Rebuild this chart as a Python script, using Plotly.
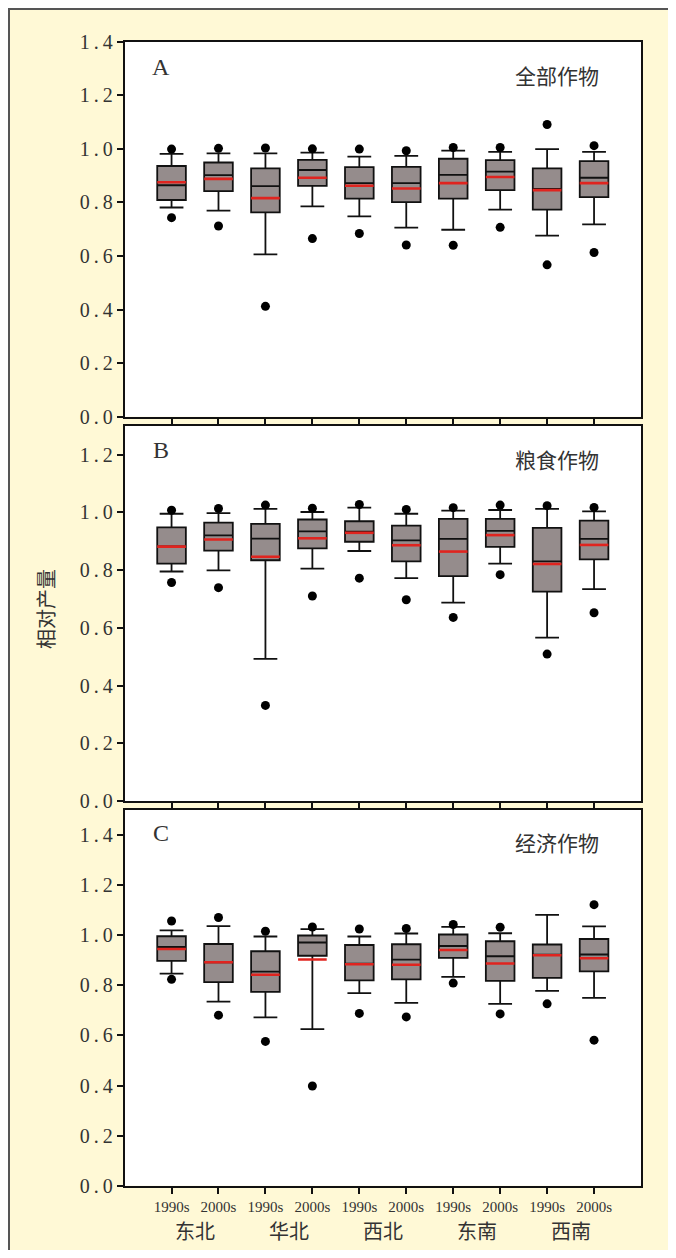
import plotly.graph_objects as go

# ---------------- data ----------------
positions = [1, 2, 3, 4, 5, 6, 7, 8, 9, 10]
decade_labels = ["1990s", "2000s"] * 5
regions = ["东北", "华北", "西北", "东南", "西南"]
panel_letters = ["A", "B", "C"]
panel_titles = ["全部作物", "粮食作物", "经济作物"]
y_title = "相对产量"

# Panel A: 全部作物
a_upper_out = [0.999, 1.002, 1.003, 1.000, 0.999, 0.993, 1.005, 1.005, 1.091, 1.012]
a_upper = [0.981, 0.983, 0.983, 0.986, 0.971, 0.974, 0.993, 0.989, 0.999, 0.989]
a_q3 = [0.936, 0.949, 0.927, 0.959, 0.932, 0.933, 0.963, 0.958, 0.927, 0.954]
a_median = [0.864, 0.902, 0.861, 0.921, 0.872, 0.872, 0.903, 0.915, 0.850, 0.892]
a_mean = [0.875, 0.888, 0.816, 0.892, 0.862, 0.852, 0.872, 0.895, 0.846, 0.872]
a_q1 = [0.809, 0.842, 0.763, 0.862, 0.814, 0.801, 0.814, 0.846, 0.773, 0.820]
a_lower = [0.781, 0.769, 0.606, 0.785, 0.748, 0.706, 0.698, 0.773, 0.676, 0.718]
a_lower_out = [0.743, 0.712, 0.412, 0.665, 0.684, 0.641, 0.640, 0.707, 0.567, 0.613]

# Panel B: 粮食作物
b_upper_out = [1.007, 1.013, 1.025, 1.014, 1.027, 1.010, 1.016, 1.025, 1.023, 1.017]
b_upper = [0.995, 0.997, 1.012, 1.001, 1.016, 0.995, 1.006, 1.008, 1.012, 1.003]
b_q3 = [0.948, 0.964, 0.960, 0.975, 0.969, 0.954, 0.977, 0.977, 0.946, 0.971]
b_median = [0.882, 0.920, 0.909, 0.934, 0.933, 0.903, 0.908, 0.936, 0.830, 0.908]
b_mean = [0.881, 0.906, 0.846, 0.910, 0.929, 0.886, 0.864, 0.921, 0.821, 0.887]
b_q1 = [0.822, 0.867, 0.834, 0.875, 0.898, 0.830, 0.779, 0.880, 0.725, 0.837]
b_lower = [0.795, 0.799, 0.492, 0.805, 0.866, 0.772, 0.687, 0.822, 0.566, 0.734]
b_lower_out = [0.757, 0.739, 0.331, 0.710, 0.772, 0.697, 0.636, 0.784, 0.509, 0.652]

# Panel C: 经济作物
c_upper_out = [1.057, 1.071, 1.016, 1.033, 1.025, 1.027, 1.043, 1.032, None, 1.122]
c_upper = [1.019, 1.036, 0.995, 1.024, 0.995, 1.007, 1.033, 1.008, 1.081, 1.035]
c_q3 = [0.996, 0.965, 0.936, 0.999, 0.961, 0.964, 1.003, 0.976, 0.963, 0.985]
c_median = [0.953, 0.892, 0.855, 0.971, 0.887, 0.903, 0.957, 0.916, 0.922, 0.923]
c_mean = [0.945, 0.892, 0.842, 0.903, 0.884, 0.882, 0.941, 0.887, 0.920, 0.908]
c_q1 = [0.898, 0.813, 0.774, 0.918, 0.820, 0.824, 0.910, 0.818, 0.830, 0.856]
c_lower = [0.847, 0.735, 0.672, 0.625, 0.769, 0.730, 0.834, 0.726, 0.778, 0.750]
c_lower_out = [0.824, 0.681, 0.576, 0.398, 0.688, 0.674, 0.809, 0.686, 0.726, 0.581]

y_ranges = [[0, 1.4], [0, 1.3], [0, 1.5]]
y_tickvals = [
    [0.0, 0.2, 0.4, 0.6, 0.8, 1.0, 1.2, 1.4],
    [0.0, 0.2, 0.4, 0.6, 0.8, 1.0, 1.2],
    [0.0, 0.2, 0.4, 0.6, 0.8, 1.0, 1.2, 1.4],
]

panels = [
    dict(q1=a_q1, med=a_median, q3=a_q3, lo=a_lower, hi=a_upper, mean=a_mean,
         out_hi=a_upper_out, out_lo=a_lower_out),
    dict(q1=b_q1, med=b_median, q3=b_q3, lo=b_lower, hi=b_upper, mean=b_mean,
         out_hi=b_upper_out, out_lo=b_lower_out),
    dict(q1=c_q1, med=c_median, q3=c_q3, lo=c_lower, hi=c_upper, mean=c_mean,
         out_hi=c_upper_out, out_lo=c_lower_out),
]

# ---------------- styling / layout ----------------
# The page body keeps its default 8px margin (white), which plays the role of
# the white strip outside the framed figure; the figure fills the rest.
PAGE_W, PAGE_H = 676, 1258
OFF = 8
W, H = PAGE_W - OFF, PAGE_H - 2 * OFF
BG = "#fff9d6"
BOX_FILL = "#958c8c"
MEAN_RED = "#e0241f"
TXT = "#333333"
SERIF = "Liberation Serif, Times New Roman, serif"
CJK = "Noto Sans CJK SC, sans-serif"

# panel extents in page pixels (top, bottom) and x extents
panel_px = [(41.7, 416.7), (425.7, 801.0), (810.0, 1185.7)]
x_left, x_right = 124.6, 641.0
box_w = 0.61
half = box_w / 2


def fy(px):
    return (H - (px - OFF)) / H


def fx(px):
    return (px - OFF) / W


def spaced(v):
    return "\u2009".join(list(f"{v:.1f}"))


fig = go.Figure()

for i, p in enumerate(panels):
    xa = "x" if i == 0 else f"x{i+1}"
    ya = "y" if i == 0 else f"y{i+1}"
    fig.add_trace(go.Box(
        x=positions, q1=p["q1"], median=p["med"], q3=p["q3"],
        lowerfence=p["lo"], upperfence=p["hi"],
        width=box_w, whiskerwidth=0.83, boxpoints=False,
        fillcolor=BOX_FILL, line=dict(color="#111111", width=1.8),
        xaxis=xa, yaxis=ya, showlegend=False, hoverinfo="skip",
    ))
    mx, my = [], []
    for xp, m in zip(positions, p["mean"]):
        mx += [xp - half, xp + half, None]
        my += [m, m, None]
    fig.add_trace(go.Scatter(
        x=mx, y=my, mode="lines", line=dict(color=MEAN_RED, width=2.6),
        xaxis=xa, yaxis=ya, showlegend=False, hoverinfo="skip",
    ))
    ox = positions + positions
    oy = list(p["out_hi"]) + list(p["out_lo"])
    fig.add_trace(go.Scatter(
        x=ox, y=oy, mode="markers",
        marker=dict(color="black", size=9),
        xaxis=xa, yaxis=ya, showlegend=False, hoverinfo="skip",
    ))

layout = dict(
    width=W, height=H, margin=dict(l=0, r=0, t=0, b=0),
    paper_bgcolor=BG, plot_bgcolor="white", showlegend=False,
)

xdom = [fx(x_left), fx(x_right)]
for i in range(3):
    top, bot = panel_px[i]
    xk = "xaxis" if i == 0 else f"xaxis{i+1}"
    yk = "yaxis" if i == 0 else f"yaxis{i+1}"
    ya = "y" if i == 0 else f"y{i+1}"
    xa = "x" if i == 0 else f"x{i+1}"
    layout[xk] = dict(
        domain=xdom, range=[0, 11], anchor=ya,
        tickmode="array", tickvals=positions,
        ticktext=decade_labels if i == 2 else [""] * 10,
        showticklabels=(i == 2),
        ticks="outside", ticklen=6, tickwidth=1.8, tickcolor="#111111",
        showline=True, linecolor="#111111", linewidth=1.8, mirror=True,
        showgrid=False, zeroline=False, automargin=False,
        tickfont=dict(family=SERIF, size=15, color=TXT),
    )
    layout[yk] = dict(
        domain=[fy(bot), fy(top)], range=y_ranges[i], anchor=xa,
        tickmode="array", tickvals=y_tickvals[i],
        ticktext=[spaced(v) for v in y_tickvals[i]],
        ticks="outside", ticklen=6, tickwidth=1.8, tickcolor="#111111",
        showline=True, linecolor="#111111", linewidth=1.8, mirror=True,
        showgrid=False, zeroline=False, automargin=False,
        tickfont=dict(family=SERIF, size=20, color=TXT),
    )

fig.update_layout(**layout)

annotations = []
letter_off = [25.8, 24.3, 23.0]
title_off = [33.0, 33.0, 32.0]
for i in range(3):
    top, _ = panel_px[i]
    annotations.append(dict(
        text=panel_letters[i], xref="paper", yref="paper",
        x=fx(161), y=fy(top + letter_off[i]), xanchor="center", yanchor="middle",
        showarrow=False, font=dict(family=SERIF, size=24, color=TXT),
    ))
    annotations.append(dict(
        text=panel_titles[i], xref="paper", yref="paper",
        x=fx(557), y=fy(top + title_off[i]), xanchor="center", yanchor="middle",
        showarrow=False, font=dict(family=CJK, size=21, color=TXT),
    ))

for k, r in enumerate(regions):
    annotations.append(dict(
        text=r, xref="x3", yref="paper",
        x=(positions[2 * k] + positions[2 * k + 1]) / 2, y=fy(1230),
        xanchor="center", yanchor="middle", showarrow=False,
        font=dict(family=CJK, size=20, color=TXT),
    ))

annotations.append(dict(
    text=y_title, xref="paper", yref="paper", x=fx(45), y=fy(609),
    xanchor="center", yanchor="middle", textangle=-90, showarrow=False,
    font=dict(family=CJK, size=20, color=TXT),
))

fig.update_layout(annotations=annotations)

# outer frame (top and left edges)
fig.add_shape(type="line", xref="paper", yref="paper",
              x0=0, x1=1, y0=1 - 1 / H, y1=1 - 1 / H,
              line=dict(color="#555555", width=2))
fig.add_shape(type="line", xref="paper", yref="paper",
              x0=1 / W, x1=1 / W, y0=0, y1=1,
              line=dict(color="#555555", width=2))

fig.write_html("out.html", config={"displayModeBar": False})
